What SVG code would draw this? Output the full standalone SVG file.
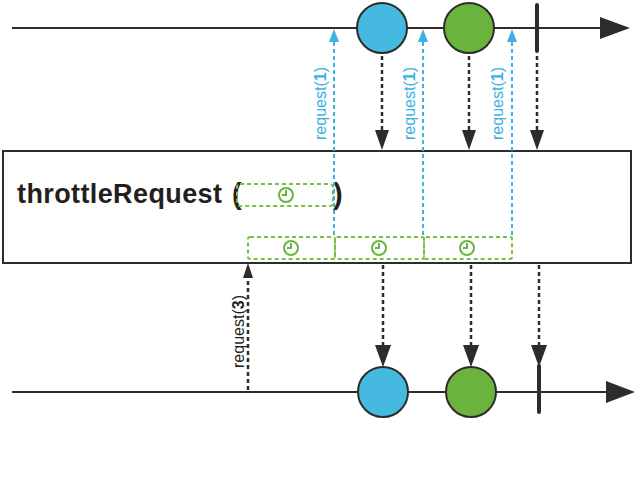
<svg xmlns="http://www.w3.org/2000/svg" width="640" height="479" viewBox="0 0 640 479">
<defs>
<style>
.tl{stroke:#2e2c2a;stroke-width:2.2;fill:none}
.ah{fill:#2e2c2a}
.bar{stroke:#2e2c2a;stroke-width:4;stroke-linecap:round}
.dk{stroke:#2e2c2a;stroke-width:2.5;stroke-dasharray:4 3;fill:none}
.bl{stroke:#3db1e2;stroke-width:2;stroke-dasharray:4 3;fill:none}
.blh{fill:#3db1e2}
.gb{stroke:#7ac143;stroke-width:2;stroke-dasharray:4 3;fill:none}
.ck{stroke:#6ab43e;stroke-width:2;fill:none}
.cb{fill:#45b9e0;stroke:#2e2c2a;stroke-width:2}
.cg{fill:#6ab43e;stroke:#2e2c2a;stroke-width:2}
.lb{font-family:"Liberation Sans",Arial,sans-serif;font-size:17px}
</style>
</defs>
<rect width="640" height="479" fill="#ffffff"/>

<g id="top-timeline">
<line class="tl" x1="12" y1="28" x2="602" y2="28"/>
<polygon class="ah" points="600,17 630,28 600,39"/>
</g>
<g id="top-blue"><circle class="cb" cx="382" cy="28" r="25"/></g>
<g id="top-green"><circle class="cg" cx="469" cy="28" r="25"/></g>
<g id="top-complete"><line class="bar" x1="537" y1="5" x2="537" y2="51"/></g>

<g id="operator">
<rect x="3" y="151" width="628" height="112" fill="#ffffff" stroke="#2e2c2a" stroke-width="2"/>
<text x="17" y="203" font-family="'Liberation Sans',Arial,sans-serif" font-weight="bold" font-size="27" fill="#231f20" textLength="205" lengthAdjust="spacing">throttleRequest</text>
<text x="232" y="204" font-family="'Liberation Sans',Arial,sans-serif" font-weight="bold" font-size="29" fill="#231f20">(</text>
<text x="333" y="204" font-family="'Liberation Sans',Arial,sans-serif" font-weight="bold" font-size="29" fill="#231f20">)</text>
<rect class="gb" x="237" y="184" width="96" height="22" rx="3"/>
<circle class="ck" cx="286" cy="195" r="7"/>
<path class="ck" d="M286,190 V195 H282" stroke-width="1.6"/>
</g>

<g id="timers">
<rect class="gb" x="248" y="237" width="87" height="22" rx="2"/>
<rect class="gb" x="335" y="237" width="89" height="22" rx="2"/>
<rect class="gb" x="424" y="237" width="88" height="22" rx="2"/>
<circle class="ck" cx="291" cy="248" r="7"/>
<path class="ck" d="M291,243 V248 H287" stroke-width="1.6"/>
<circle class="ck" cx="379" cy="248" r="7"/>
<path class="ck" d="M379,243 V248 H375" stroke-width="1.6"/>
<circle class="ck" cx="467" cy="248" r="7"/>
<path class="ck" d="M467,243 V248 H463" stroke-width="1.6"/>
</g>

<g id="bottom-timeline">
<line class="tl" x1="12" y1="392" x2="608" y2="392"/>
<polygon class="ah" points="606,381 635,392 606,403"/>
</g>
<g id="bottom-blue"><circle class="cb" cx="383" cy="392" r="25"/></g>
<g id="bottom-green"><circle class="cg" cx="471" cy="392" r="25"/></g>
<g id="bottom-complete"><line class="bar" x1="539" y1="366" x2="539" y2="412"/></g>

<g id="connectors">
<line class="bl" x1="334" y1="42" x2="334" y2="237"/>
<polygon class="blh" points="334,29 339,42 329,42"/>
<line class="bl" x1="423" y1="42" x2="423" y2="237"/>
<polygon class="blh" points="423,29 428,42 418,42"/>
<line class="bl" x1="512" y1="42" x2="512" y2="237"/>
<polygon class="blh" points="512,29 517,42 507,42"/>
<text class="lb" fill="#3db1e2" transform="translate(326,140) rotate(-90)" textLength="73" lengthAdjust="spacingAndGlyphs">request(<tspan font-weight="bold">1</tspan>)</text>
<text class="lb" fill="#3db1e2" transform="translate(415,140) rotate(-90)" textLength="73" lengthAdjust="spacingAndGlyphs">request(<tspan font-weight="bold">1</tspan>)</text>
<text class="lb" fill="#3db1e2" transform="translate(503,140) rotate(-90)" textLength="73" lengthAdjust="spacingAndGlyphs">request(<tspan font-weight="bold">1</tspan>)</text>

<line class="dk" x1="382" y1="56" x2="382" y2="132"/>
<polygon class="ah" points="375,130 389,130 382,150"/>
<line class="dk" x1="469" y1="56" x2="469" y2="132"/>
<polygon class="ah" points="462,130 476,130 469,150"/>
<line class="dk" x1="537" y1="56" x2="537" y2="132"/>
<polygon class="ah" points="530,130 544,130 537,150"/>

<line class="dk" x1="383" y1="265" x2="383" y2="347"/>
<polygon class="ah" points="375,345 391,345 383,367"/>
<line class="dk" x1="471" y1="265" x2="471" y2="347"/>
<polygon class="ah" points="463,345 479,345 471,367"/>
<line class="dk" x1="539" y1="265" x2="539" y2="347"/>
<polygon class="ah" points="531,345 547,345 539,367"/>

<line class="dk" x1="248" y1="390" x2="248" y2="277"/>
<polygon class="ah" points="248,263 253,278 243,278"/>
<text class="lb" fill="#231f20" transform="translate(244,368) rotate(-90)" textLength="73" lengthAdjust="spacingAndGlyphs">request(<tspan font-weight="bold">3</tspan>)</text>
</g>
</svg>
